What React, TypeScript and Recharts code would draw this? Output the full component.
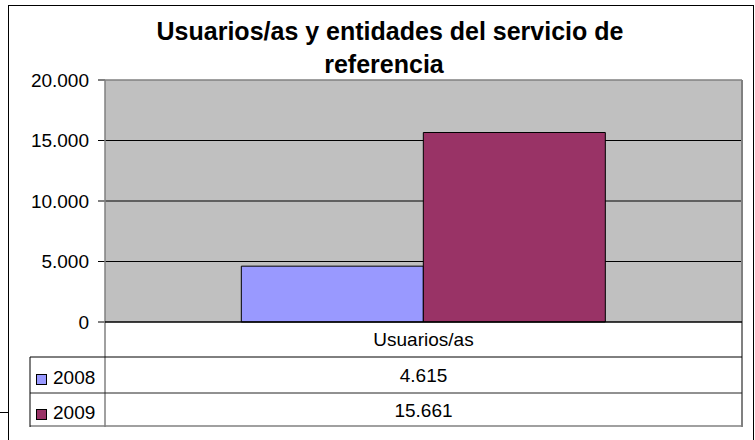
import React from 'react';
import { BarChart, Bar, XAxis, YAxis, CartesianGrid } from 'recharts';

const title = ['Usuarios/as y entidades del servicio de', 'referencia'];
const categories = ['Usuarios/as'];
const seriesNames = ['2008', '2009'];
const values2008 = [4615];
const values2009 = [15661];
const seriesColors = ['#9999FF', '#993366'];
const yTicks = [0, 5000, 10000, 15000, 20000];

const fmt = (v: number) => String(v).replace(/\B(?=(\d{3})+(?!\d))/g, '.');

const chartData = categories.map((name, i) => ({
  name,
  s2008: values2008[i],
  s2009: values2009[i],
}));
const seriesValues = [values2008, values2009];

const FONT = '"Liberation Sans", Arial, sans-serif';

export default function App() {
  return (
    <div style={{ position: 'absolute', left: 0, top: 0, width: 755, height: 440, overflow: 'hidden', background: '#fff', fontFamily: FONT }}>
      <div style={{ position: 'absolute', left: 8, top: 4.5, width: 746, height: 460, border: '1.5px solid #000', boxSizing: 'border-box' }} />
      <div style={{ position: 'absolute', left: 0, top: 412, width: 9, height: 1, background: '#000' }} />
      <div style={{ position: 'absolute', left: 0, top: 0 }}>
        <BarChart
          width={755}
          height={440}
          data={chartData}
          margin={{ top: 80, right: 13, bottom: 118, left: 0 }}
          barCategoryGap="21.4%"
          barGap={0}
        >
          <CartesianGrid vertical={false} stroke="#000" fill="#C0C0C0" fillOpacity={1} horizontalValues={[5000, 10000, 15000]} />
          <XAxis dataKey="name" hide />
          <YAxis
            width={105}
            domain={[0, 20000]}
            ticks={yTicks}
            tickFormatter={fmt}
            axisLine={false}
            tickSize={7}
            tickMargin={9}
            tickLine={{ stroke: '#000' }}
            tick={{ fontSize: 19, fill: '#000', fontFamily: FONT }}
            interval={0}
          />
          <Bar dataKey="s2008" name={seriesNames[0]} fill={seriesColors[0]} stroke="#000" strokeWidth={1} isAnimationActive={false} />
          <Bar dataKey="s2009" name={seriesNames[1]} fill={seriesColors[1]} stroke="#000" strokeWidth={1} isAnimationActive={false} />
        </BarChart>
      </div>
      <svg width={755} height={440} style={{ position: 'absolute', left: 0, top: 0, pointerEvents: 'none' }}>
        <g fontFamily={FONT} fontWeight="bold" fontSize={25} fill="#000" textAnchor="middle">
          <text x={390} y={40}>{title[0]}</text>
          <text x={384} y={73}>{title[1]}</text>
        </g>
        {/* plot frame */}
        <line x1={105} y1={80} x2={742} y2={80} stroke="#808080" strokeWidth={1.5} />
        <line x1={105} y1={80} x2={105} y2={427} stroke="#808080" strokeWidth={1.5} />
        <line x1={742} y1={80} x2={742} y2={427} stroke="#808080" strokeWidth={2} />
        {/* axis / table lines */}
        <line x1={105} y1={322} x2={742} y2={322} stroke="#000" strokeWidth={1.5} />
        <line x1={30} y1={357} x2={742} y2={357} stroke="#000" strokeWidth={1} />
        <line x1={30} y1={393} x2={742} y2={393} stroke="#222" strokeWidth={1} />
        <line x1={30} y1={426} x2={742} y2={426} stroke="#808080" strokeWidth={1.5} />
        <line x1={30} y1={357} x2={30} y2={427} stroke="#000" strokeWidth={1} />
        <g fontFamily={FONT} fontSize={19} fill="#000">
          <text x={423.5} y={346} textAnchor="middle">{categories[0]}</text>
          {seriesNames.map((s, i) => (
            <g key={s}>
              <rect x={36.5} y={374.5 + i * 35} width={10} height={10} fill={seriesColors[i]} stroke="#000" strokeWidth={1} />
              <text x={53} y={383.5 + i * 35}>{s}</text>
              <text x={423.5} y={382 + i * 35} textAnchor="middle">{fmt(seriesValues[i][0])}</text>
            </g>
          ))}
        </g>
      </svg>
    </div>
  );
}
